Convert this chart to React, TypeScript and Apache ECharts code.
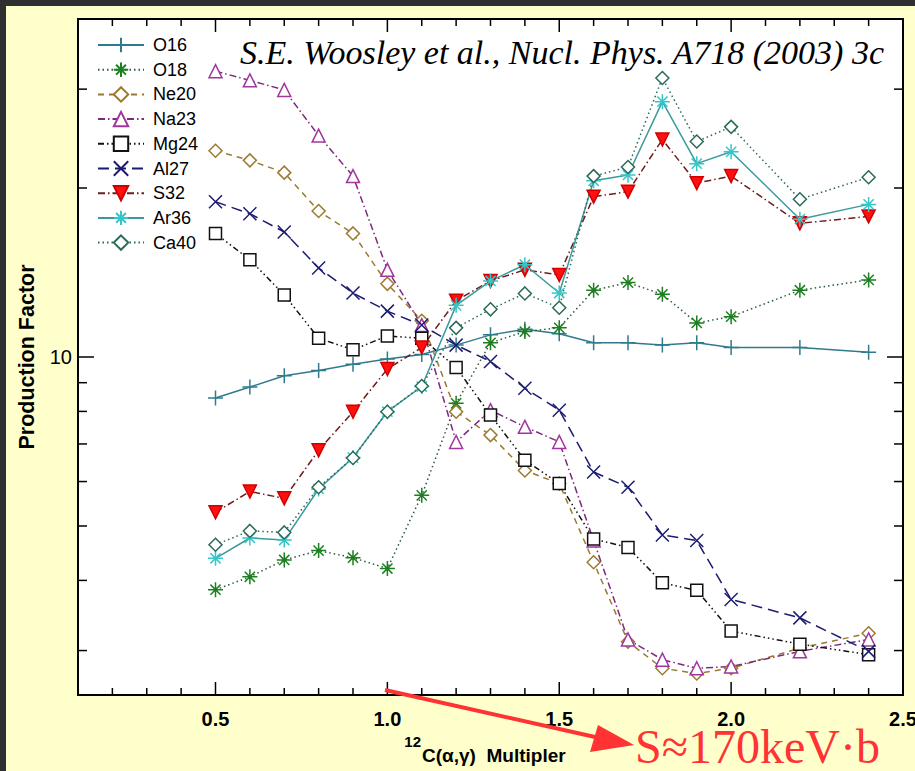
import React, { useEffect, useRef } from 'react';
import * as echarts from 'echarts';

// ---- data ----
const multipliers = [0.5, 0.6, 0.7, 0.8, 0.9, 1.0, 1.1, 1.2, 1.3, 1.4, 1.5, 1.6, 1.7, 1.8, 1.9, 2.0, 2.2, 2.4];

const O16 = [8.45, 8.84, 9.26, 9.46, 9.71, 9.92, 10.1, 10.5, 10.95, 11.2, 11.0, 10.6, 10.6, 10.5, 10.6, 10.4, 10.4, 10.2];
const O18 = [3.85, 4.06, 4.35, 4.52, 4.39, 4.2, 5.67, 8.27, 10.6, 11.1, 11.27, 13.15, 13.57, 12.93, 11.5, 11.8, 13.15, 13.72];
const Ne20 = [23.3, 22.4, 21.3, 18.2, 16.6, 13.5, 11.6, 7.99, 7.26, 6.28, 5.95, 4.31, 3.11, 2.79, 2.73, 2.79, 3.03, 3.22];
const Na23 = [32.3, 31.1, 29.9, 24.8, 21.0, 14.3, 11.4, 7.06, 8.04, 7.51, 7.06, 4.71, 3.14, 2.89, 2.79, 2.81, 2.99, 3.14];
const Mg24 = [16.6, 14.9, 12.9, 10.8, 10.3, 10.9, 10.8, 9.58, 7.88, 6.55, 5.95, 4.74, 4.58, 3.96, 3.84, 3.25, 3.08, 2.95];
const Al27 = [18.9, 18.0, 16.7, 14.4, 13.0, 12.07, 11.4, 10.5, 9.82, 8.8, 8.04, 6.24, 5.86, 4.82, 4.71, 3.7, 3.43, 2.99];
const S32 = [5.29, 5.76, 5.6, 6.82, 7.99, 9.52, 10.4, 12.6, 13.66, 14.3, 14.0, 19.3, 19.7, 24.4, 20.4, 21.0, 17.3, 17.8];
const Ar36 = [4.38, 4.76, 4.72, 5.82, 6.62, 7.99, 8.86, 12.36, 13.66, 14.6, 13.0, 20.6, 21.1, 28.5, 22.1, 23.2, 17.6, 18.7];
const Ca40 = [4.63, 4.9, 4.87, 5.86, 6.61, 7.99, 8.88, 11.27, 12.16, 12.98, 12.24, 21.0, 21.8, 31.4, 24.2, 25.7, 19.1, 20.9];

// ---- axis ticks ----
const xTickValues = [0.2, 0.3, 0.4, 0.5, 0.6, 0.7, 0.8, 0.9, 1.0, 1.1, 1.2, 1.3, 1.4, 1.5, 1.6, 1.7, 1.8, 1.9, 2.0, 2.1, 2.2, 2.3, 2.4];
const xMajorTicks = [0.5, 1.0, 1.5, 2.0];
const xLabelValues = [0.5, 1.0, 1.5, 2.0, 2.5];
const yTickValues = [3, 4, 5, 6, 7, 8, 9, 10, 20, 30];
const yMajorTicks = [10];
const yLabelValues = [10];

const SANS = "'Liberation Sans', Arial, Helvetica, sans-serif";
const NARROW = "'Liberation Sans Narrow', 'Liberation Sans', Arial, sans-serif";
const SERIF = "'Liberation Serif', 'Times New Roman', Times, serif";

const PLUS = 'path://M5,0L5,10M0,5L10,5';
const CROSS = 'path://M0,0L10,10M10,0L0,10';
const STAR = 'path://M5,0L5,10M0,5L10,5M1.6,1.6L8.4,8.4M8.4,1.6L1.6,8.4';

type Spec = {
  name: string;
  values: number[];
  line: string;
  dash: any;
  symbol: string;
  size: number;
  fill: string;
  stroke: string;
  rotate?: number;
};

const specs: Spec[] = [
  { name: 'O16', values: O16, line: '#2f7b8e', dash: 'solid', symbol: PLUS, size: 15, fill: '#2f7b8e', stroke: '#2f7b8e' },
  { name: 'O18', values: O18, line: '#2d5a37', dash: [1.5, 3], symbol: STAR, size: 15, fill: '#22a022', stroke: '#1e7f22' },
  { name: 'Ne20', values: Ne20, line: '#9a7a2e', dash: [6, 5], symbol: 'diamond', size: 13, fill: '#ffffff', stroke: '#9a7a2e' },
  { name: 'Na23', values: Na23, line: '#7d2a7d', dash: [7, 3, 1.5, 3], symbol: 'triangle', size: 13, fill: '#ffffff', stroke: '#a0369e' },
  { name: 'Mg24', values: Mg24, line: '#111111', dash: [6, 3, 1.5, 3, 1.5, 3, 1.5, 3], symbol: 'rect', size: 12, fill: '#ffffff', stroke: '#111111' },
  { name: 'Al27', values: Al27, line: '#1b1b72', dash: [11, 6], symbol: CROSS, size: 13, fill: '#1b1b72', stroke: '#1b1b72' },
  { name: 'S32', values: S32, line: '#6e1c1c', dash: [7, 3, 1.5, 3], symbol: 'triangle', size: 13, fill: '#ff1010', stroke: '#d00000', rotate: 180 },
  { name: 'Ar36', values: Ar36, line: '#3a9a9c', dash: 'solid', symbol: STAR, size: 15, fill: '#40dada', stroke: '#35c6c8' },
  { name: 'Ca40', values: Ca40, line: '#2a6a58', dash: [1.5, 3], symbol: 'diamond', size: 13, fill: '#ffffff', stroke: '#2a6a58' },
];

const tickData = [
  ...xTickValues.map((v) => [v, 10, 0, xMajorTicks.includes(v) ? 1 : 0]),
  ...yTickValues.map((v) => [1, v, 1, yMajorTicks.includes(v) ? 1 : 0]),
];

function buildOption(): any {
  const lineSeries = specs.map((s) => ({
    name: s.name,
    type: 'line',
    data: multipliers.map((x, i) => [x, s.values[i]]),
    symbol: s.symbol,
    symbolSize: s.size,
    symbolRotate: s.rotate || 0,
    showAllSymbol: true,
    lineStyle: { color: s.line, width: 1.5, type: s.dash },
    itemStyle: { color: s.fill, borderColor: s.stroke, borderWidth: 1.5 },
    emphasis: { disabled: true },
    z: 3,
  }));

  const tickSeries = {
    name: '__ticks',
    type: 'custom',
    data: tickData,
    encode: { x: 0, y: 1 },
    silent: true,
    clip: false,
    z: 5,
    renderItem: (params: any, api: any) => {
      const cs = params.coordSys;
      const kind = api.value(2);
      const major = api.value(3) === 1;
      const st = { stroke: '#000', lineWidth: 1.5 };
      if (kind === 0) {
        const p = api.coord([api.value(0), 10]);
        const len = major ? 13 : 7;
        const yb = cs.y + cs.height;
        return {
          type: 'group',
          children: [
            { type: 'line', shape: { x1: p[0], y1: yb, x2: p[0], y2: yb - len }, style: st },
            { type: 'line', shape: { x1: p[0], y1: cs.y, x2: p[0], y2: cs.y + len }, style: st },
          ],
        };
      }
      const p = api.coord([1, api.value(1)]);
      const len = major ? 16 : 9;
      const xr = cs.x + cs.width;
      return {
        type: 'group',
        children: [
          { type: 'line', shape: { x1: cs.x, y1: p[1], x2: cs.x + len, y2: p[1] }, style: st },
          { type: 'line', shape: { x1: xr, y1: p[1], x2: xr - len, y2: p[1] }, style: st },
        ],
      };
    },
  };

  return {
    animation: false,
    backgroundColor: '#ffffcc',
    grid: {
      left: 78,
      top: 19,
      right: 12,
      bottom: 76,
      show: true,
      backgroundColor: '#ffffff',
      borderColor: '#000000',
      borderWidth: 2,
      containLabel: false,
      outerBoundsMode: 'none',
    },
    xAxis: {
      type: 'value',
      min: 0.1,
      max: 2.5,
      interval: 0.1,
      axisLine: { show: false },
      axisTick: { show: false },
      splitLine: { show: false },
      axisLabel: {
        margin: 14,
        fontSize: 20,
        fontWeight: 'bold',
        fontFamily: SANS,
        color: '#000',
        formatter: (v: number) => (xLabelValues.some((m) => Math.abs(m - v) < 1e-6) ? v.toFixed(1) : ''),
      },
    },
    yAxis: {
      type: 'log',
      logBase: 10,
      min: 2.5,
      max: 40,
      axisLine: { show: false },
      axisTick: { show: false },
      splitLine: { show: false },
      axisLabel: {
        margin: 6,
        fontSize: 20,
        fontFamily: SANS,
        color: '#000',
        formatter: (v: number) => (yLabelValues.some((m) => Math.abs(m - v) < 1e-6) ? String(Math.round(v)) : ''),
      },
    },
    legend: {
      data: specs.map((s) => s.name),
      orient: 'vertical',
      left: 97,
      top: 36,
      itemWidth: 46,
      itemHeight: 18,
      itemGap: 6.7,
      padding: 0,
      selectedMode: false,
      textStyle: { fontSize: 18, fontFamily: NARROW, color: '#000', padding: [0, 0, 0, 4] },
    },
    graphic: [
      { type: 'rect', shape: { x: 0, y: 0, width: 915, height: 6 }, style: { fill: '#2f2f2f' }, silent: true },
      { type: 'rect', shape: { x: 0, y: 0, width: 6, height: 771 }, style: { fill: '#2f2f2f' }, silent: true },
      {
        type: 'text',
        x: 562,
        y: 52,
        z: 20,
        style: {
          text: 'S.E. Woosley et al., Nucl. Phys. A718 (2003) 3c',
          fontFamily: SERIF,
          fontStyle: 'italic',
          fontSize: 34,
          fill: '#000',
          align: 'center',
          verticalAlign: 'middle',
        },
      },
      {
        type: 'text',
        x: 27,
        y: 357,
        rotation: Math.PI / 2,
        style: {
          text: 'Production Factor',
          fontFamily: SANS,
          fontWeight: 'bold',
          fontSize: 21.5,
          fill: '#000',
          align: 'center',
          verticalAlign: 'middle',
        },
      },
      {
        type: 'text',
        x: 421,
        y: 741,
        style: { text: '12', fontFamily: SANS, fontWeight: 'bold', fontSize: 15, fill: '#000', align: 'right', verticalAlign: 'middle' },
      },
      {
        type: 'text',
        x: 422,
        y: 755,
        style: { text: 'C(\u03B1,\u03B3)  Multipler', fontFamily: SANS, fontWeight: 'bold', fontSize: 19, fill: '#000', align: 'left', verticalAlign: 'middle' },
      },
      {
        type: 'line',
        z: 30,
        shape: { x1: 385, y1: 690, x2: 604, y2: 739 },
        style: { stroke: '#ff3333', lineWidth: 4 },
      },
      {
        type: 'polygon',
        z: 30,
        shape: { points: [[634, 745], [598, 725], [590, 752]] },
        style: { fill: '#ff3333' },
      },
      {
        type: 'text',
        x: 635,
        y: 746,
        z: 30,
        style: {
          text: 'S\u2248170keV\u00B7b',
          fontFamily: SERIF,
          fontSize: 48,
          fill: '#ff3333',
          align: 'left',
          verticalAlign: 'middle',
        },
      },
    ],
    series: [...lineSeries, tickSeries],
  };
}

export default function App() {
  const ref = useRef<HTMLDivElement>(null);
  useEffect(() => {
    if (!ref.current) return;
    const chart = echarts.init(ref.current, undefined, { renderer: 'svg' });
    chart.setOption(buildOption());
    return () => chart.dispose();
  }, []);
  return (
    <div
      ref={ref}
      style={{ position: 'absolute', left: 0, top: 0, width: 915, height: 771, overflow: 'hidden' }}
    />
  );
}
